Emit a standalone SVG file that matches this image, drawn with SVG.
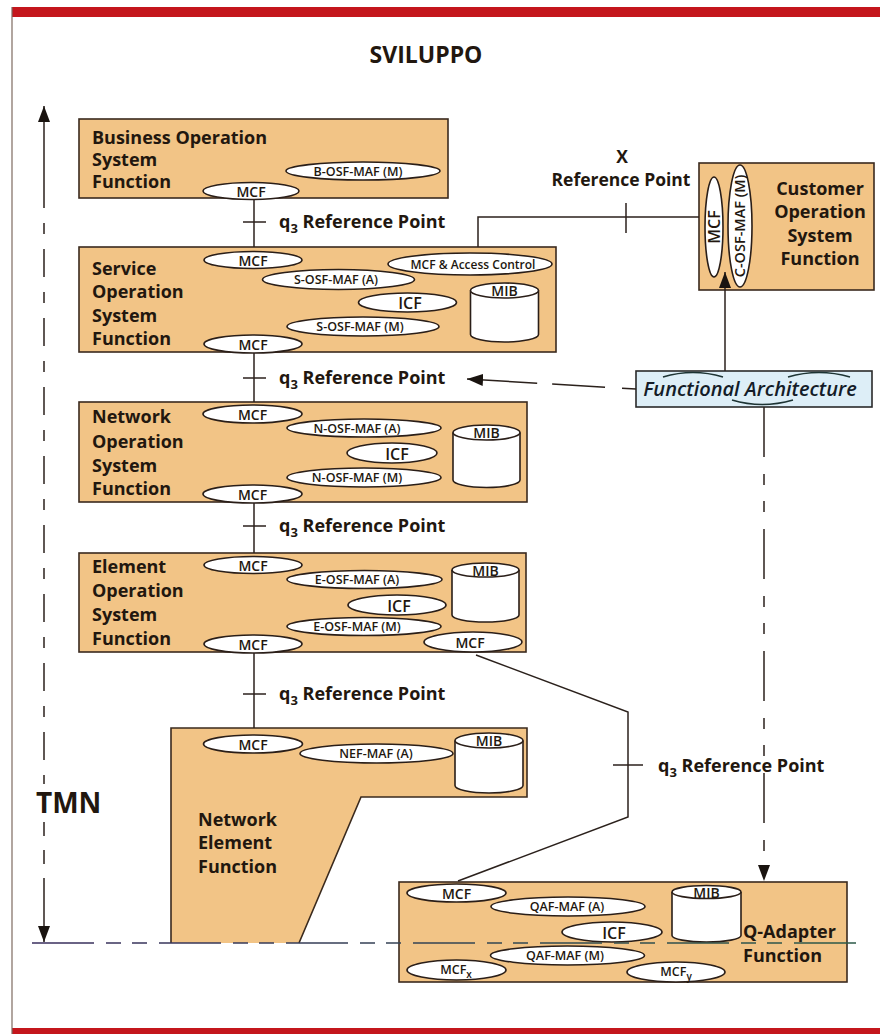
<svg xmlns="http://www.w3.org/2000/svg" width="880" height="1034" viewBox="0 0 880 1034">
<defs>
<style>
.box{fill:#f2c486;stroke:#3a2a1e;stroke-width:1.6}
.el{fill:#fff;stroke:#2a1e18;stroke-width:1.6}
.ln{fill:none;stroke:#2b211c;stroke-width:1.5}
.tt{font-family:'Open Sans','DejaVu Sans',sans-serif;font-weight:700;font-size:18px;fill:#22170f}
.rp{font-family:'Open Sans','DejaVu Sans',sans-serif;font-weight:700;font-size:18px;fill:#22170f}
.m{font-family:'Open Sans','DejaVu Sans',sans-serif;font-weight:600;font-size:14px;fill:#22170f;text-anchor:middle}
.s{font-family:'Open Sans','DejaVu Sans',sans-serif;font-weight:600;font-size:12.5px;fill:#22170f;text-anchor:middle}
.i{font-family:'Open Sans','DejaVu Sans',sans-serif;font-weight:600;font-size:16px;fill:#22170f;text-anchor:middle}
.arc{fill:none;stroke:#1d3434;stroke-width:1.5}
</style>
<marker id="ah" viewBox="0 0 16 12" refX="16" refY="6" markerWidth="16" markerHeight="12" markerUnits="userSpaceOnUse" orient="auto"><path d="M0,0 L16,6 L0,12 z" fill="#1a1410"/></marker>
<linearGradient id="bl" gradientUnits="userSpaceOnUse" x1="32" y1="0" x2="862" y2="0"><stop offset="0" stop-color="#3a2e5e"/><stop offset="1" stop-color="#2c5a48"/></linearGradient>
</defs>
<rect x="0" y="0" width="880" height="1034" fill="#fff"/>
<g id="frame">
<rect x="12" y="7" width="868" height="10" fill="#c4161c"/>
<rect x="12" y="1028" width="868" height="6" fill="#c4161c"/>
<line x1="12" y1="7" x2="12" y2="1034" stroke="#7d6a60" stroke-width="1.2"/>
<text x="426" y="63" class="tt" style="font-size:23px" text-anchor="middle">SVILUPPO</text>
</g>

<g id="business">
<rect class="box" x="79" y="119" width="369" height="79"/>
<text class="tt" x="92" y="144">Business Operation</text>
<text class="tt" x="92" y="166">System</text>
<text class="tt" x="92" y="188">Function</text>
<ellipse class="el" cx="363" cy="171" rx="77" ry="9"/><text class="s" x="358" y="175.5">B-OSF-MAF (M)</text>
<ellipse class="el" cx="251" cy="191" rx="48" ry="8.5"/><text class="m" x="251" y="196.5">MCF</text>
</g>

<g id="service">
<rect class="box" x="79" y="247" width="477" height="105"/>
<text class="tt" x="92" y="275">Service</text>
<text class="tt" x="92" y="298">Operation</text>
<text class="tt" x="92" y="322">System</text>
<text class="tt" x="92" y="345">Function</text>
<ellipse class="el" cx="253" cy="260" rx="49" ry="8.5"/><text class="m" x="253" y="265.5">MCF</text>
<ellipse class="el" cx="470" cy="264" rx="82" ry="11"/><text class="s" x="473" y="268.5" style="font-size:12px">MCF &amp; Access Control</text>
<ellipse class="el" cx="338.5" cy="279.5" rx="76" ry="10"/><text class="s" x="336" y="284">S-OSF-MAF (A)</text>
<ellipse class="el" cx="407.5" cy="302.5" rx="49" ry="9.5"/><text class="i" x="410" y="308.5">ICF</text>
<ellipse class="el" cx="363" cy="326.5" rx="76" ry="9.5"/><text class="s" x="360" y="331">S-OSF-MAF (M)</text>
<ellipse class="el" cx="253" cy="344" rx="49" ry="9"/><text class="m" x="253" y="349.5">MCF</text>
<path class="el" d="M470.5,290.5 V334.5 A34,7.5 0 0 0 538.5,334.5 V290.5"/>
<ellipse class="el" cx="504.5" cy="290.5" rx="34" ry="7.5"/><text class="m" x="504.5" y="296">MIB</text>
</g>

<g id="network">
<rect class="box" x="79" y="402" width="448" height="100"/>
<text class="tt" x="92" y="423">Network</text>
<text class="tt" x="92" y="448">Operation</text>
<text class="tt" x="92" y="472">System</text>
<text class="tt" x="92" y="495">Function</text>
<ellipse class="el" cx="252.5" cy="414" rx="49.5" ry="9"/><text class="m" x="252.5" y="420">MCF</text>
<ellipse class="el" cx="364" cy="428" rx="77" ry="9"/><text class="s" x="357" y="432.5">N-OSF-MAF (A)</text>
<ellipse class="el" cx="392" cy="453" rx="45" ry="10"/><text class="i" x="397" y="459.5">ICF</text>
<ellipse class="el" cx="364" cy="477.5" rx="77" ry="9.5"/><text class="s" x="357" y="482">N-OSF-MAF (M)</text>
<ellipse class="el" cx="252.5" cy="494" rx="49.5" ry="9"/><text class="m" x="252.5" y="500">MCF</text>
<path class="el" d="M453,432.5 V480 A33.5,7.5 0 0 0 520,480 V432.5"/>
<ellipse class="el" cx="486.5" cy="432.5" rx="33.5" ry="7.5"/><text class="m" x="486.5" y="438">MIB</text>
</g>

<g id="element">
<rect class="box" x="79" y="553" width="447" height="99"/>
<text class="tt" x="92" y="573">Element</text>
<text class="tt" x="92" y="597">Operation</text>
<text class="tt" x="92" y="621">System</text>
<text class="tt" x="92" y="645">Function</text>
<ellipse class="el" cx="253" cy="565" rx="49" ry="8.5"/><text class="m" x="253" y="570.5">MCF</text>
<ellipse class="el" cx="364.5" cy="579.5" rx="77.5" ry="9"/><text class="s" x="357" y="584">E-OSF-MAF (A)</text>
<ellipse class="el" cx="397" cy="605" rx="49" ry="10"/><text class="i" x="399" y="611.5">ICF</text>
<ellipse class="el" cx="364" cy="626.5" rx="77" ry="9"/><text class="s" x="357" y="631">E-OSF-MAF (M)</text>
<ellipse class="el" cx="253" cy="644" rx="49" ry="9"/><text class="m" x="253" y="650">MCF</text>
<ellipse class="el" cx="473" cy="642" rx="49" ry="10"/><text class="m" x="470" y="648">MCF</text>
<path class="el" d="M452,570 V615 A33.5,7 0 0 0 519,615 V570"/>
<ellipse class="el" cx="485.5" cy="570" rx="33.5" ry="7"/><text class="m" x="485.5" y="575.5">MIB</text>
</g>

<g id="network-element">
<polygon points="171,728 527,728 527,797 361,797 299,943 171,943" fill="#f2c486"/>
<polyline points="171,943 171,728 527,728 527,797 361,797 299,943" fill="none" stroke="#3a2a1e" stroke-width="1.6"/>
<text class="tt" x="198" y="826">Network</text>
<text class="tt" x="198" y="849">Element</text>
<text class="tt" x="198" y="873">Function</text>
<ellipse class="el" cx="253" cy="744" rx="49.5" ry="9"/><text class="m" x="253" y="750">MCF</text>
<ellipse class="el" cx="376.5" cy="753.5" rx="76.5" ry="9.5"/><text class="s" x="376" y="758">NEF-MAF (A)</text>
<path class="el" d="M455,740.5 V785.5 A34,7.5 0 0 0 523,785.5 V740.5"/>
<ellipse class="el" cx="489" cy="740.5" rx="34" ry="7.5"/><text class="m" x="489" y="746">MIB</text>
</g>

<g id="q-adapter">
<rect class="box" x="399" y="882" width="448" height="100"/>
<ellipse class="el" cx="456.5" cy="893" rx="49.5" ry="9"/><text class="m" x="456.5" y="899">MCF</text>
<ellipse class="el" cx="568" cy="906.5" rx="77" ry="9.5"/><text class="s" x="567" y="911">QAF-MAF (A)</text>
<ellipse class="el" cx="612" cy="932" rx="50" ry="10"/><text class="i" x="614" y="938.5">ICF</text>
<ellipse class="el" cx="567.5" cy="955.5" rx="77" ry="9.5"/><text class="s" x="565" y="960">QAF-MAF (M)</text>
<ellipse class="el" cx="456.5" cy="970" rx="49.5" ry="10"/><text class="s" x="456" y="974">MCF<tspan dy="4" style="font-size:10px">x</tspan></text>
<ellipse class="el" cx="676" cy="972" rx="49" ry="10"/><text class="s" x="676" y="976">MCF<tspan dy="4" style="font-size:10px">y</tspan></text>
<path class="el" d="M672,892 V935.5 A34.5,6.5 0 0 0 741,935.5 V892"/>
<ellipse class="el" cx="706.5" cy="892" rx="34.5" ry="6.5"/><text class="m" x="706.5" y="897.5">MIB</text>
<text class="tt" x="743" y="938">Q-Adapter</text>
<text class="tt" x="743" y="962">Function</text>
</g>

<g id="customer">
<rect class="box" x="699" y="163" width="175" height="127"/>
<ellipse class="el" cx="714" cy="227" rx="9" ry="50"/>
<text class="m" x="714" y="232.5" style="font-size:16px" transform="rotate(-90 714 227)">MCF</text>
<ellipse class="el" cx="740" cy="226" rx="12" ry="61"/>
<text class="m" x="740" y="231" style="font-size:14.5px" transform="rotate(-90 740 226)">C-OSF-MAF (M)</text>
<text class="tt" x="820" y="195" text-anchor="middle">Customer</text>
<text class="tt" x="820" y="218" text-anchor="middle">Operation</text>
<text class="tt" x="820" y="242" text-anchor="middle">System</text>
<text class="tt" x="820" y="265" text-anchor="middle">Function</text>
</g>

<g id="functional-architecture">
<rect x="636" y="371" width="236" height="36" fill="#ddeef7" stroke="#2a2a2a" stroke-width="1.6"/>
<text x="750" y="395.5" text-anchor="middle" style="font-family:'Open Sans','DejaVu Sans',sans-serif;font-style:italic;font-weight:600;font-size:20px;fill:#141c28">Functional Architecture</text>
<path class="arc" d="M663,377 Q693,368 723,377"/>
<path class="arc" d="M788,377 Q819,368 850,377"/>
<path class="arc" d="M732,400 Q762,409 793,400"/>
</g>

<g id="connectors">
<line class="ln" x1="32" y1="943" x2="862" y2="943" style="stroke:url(#bl);stroke-dasharray:62 12 15 11 15 12"/>
<line class="ln" x1="44" y1="180" x2="44" y2="106" marker-end="url(#ah)"/>
<line class="ln" x1="44" y1="180" x2="44" y2="784" stroke-dasharray="28 15 11 15"/>
<line class="ln" x1="44" y1="822" x2="44" y2="892" stroke-dasharray="14 14 14 14"/>
<line class="ln" x1="44" y1="892" x2="44" y2="942" marker-end="url(#ah)"/>
<text class="tt" x="36" y="813" style="font-size:28px">TMN</text>

<line class="ln" x1="254" y1="199" x2="254" y2="247"/>
<line class="ln" x1="243" y1="222" x2="266" y2="222"/>
<text class="rp" x="279" y="228">q<tspan dy="5" style="font-size:13px">3</tspan><tspan dy="-5"> Reference Point</tspan></text>

<line class="ln" x1="254" y1="353" x2="254" y2="402"/>
<line class="ln" x1="243" y1="378" x2="266" y2="378"/>
<text class="rp" x="279" y="384">q<tspan dy="5" style="font-size:13px">3</tspan><tspan dy="-5"> Reference Point</tspan></text>

<line class="ln" x1="254" y1="503" x2="254" y2="553"/>
<line class="ln" x1="243" y1="526" x2="266" y2="526"/>
<text class="rp" x="279" y="532">q<tspan dy="5" style="font-size:13px">3</tspan><tspan dy="-5"> Reference Point</tspan></text>

<line class="ln" x1="254" y1="653" x2="254" y2="728"/>
<line class="ln" x1="243" y1="694" x2="266" y2="694"/>
<text class="rp" x="279" y="700">q<tspan dy="5" style="font-size:13px">3</tspan><tspan dy="-5"> Reference Point</tspan></text>

<polyline class="ln" points="476,655 628,712 628,817 458,881"/>
<line class="ln" x1="613" y1="765" x2="643" y2="765"/>
<text class="rp" x="658" y="772">q<tspan dy="5" style="font-size:13px">3</tspan><tspan dy="-5"> Reference Point</tspan></text>

<polyline class="ln" points="478,247 478,217 699,217"/>
<line class="ln" x1="626" y1="203" x2="626" y2="233"/>
<text class="rp" x="622" y="163" text-anchor="middle" style="font-size:17.5px">X</text>
<text class="rp" x="621" y="186" text-anchor="middle" style="font-size:17.5px">Reference Point</text>

<line class="ln" x1="725" y1="371" x2="725" y2="272" marker-end="url(#ah)"/>
<line class="ln" x1="636" y1="389" x2="467" y2="379" stroke-dasharray="14 17 53 15 90" marker-end="url(#ah)"/>
<line class="ln" x1="764" y1="407" x2="764" y2="881" stroke-dasharray="50 17 11 16 11 17" marker-end="url(#ah)"/>
</g>
</svg>
